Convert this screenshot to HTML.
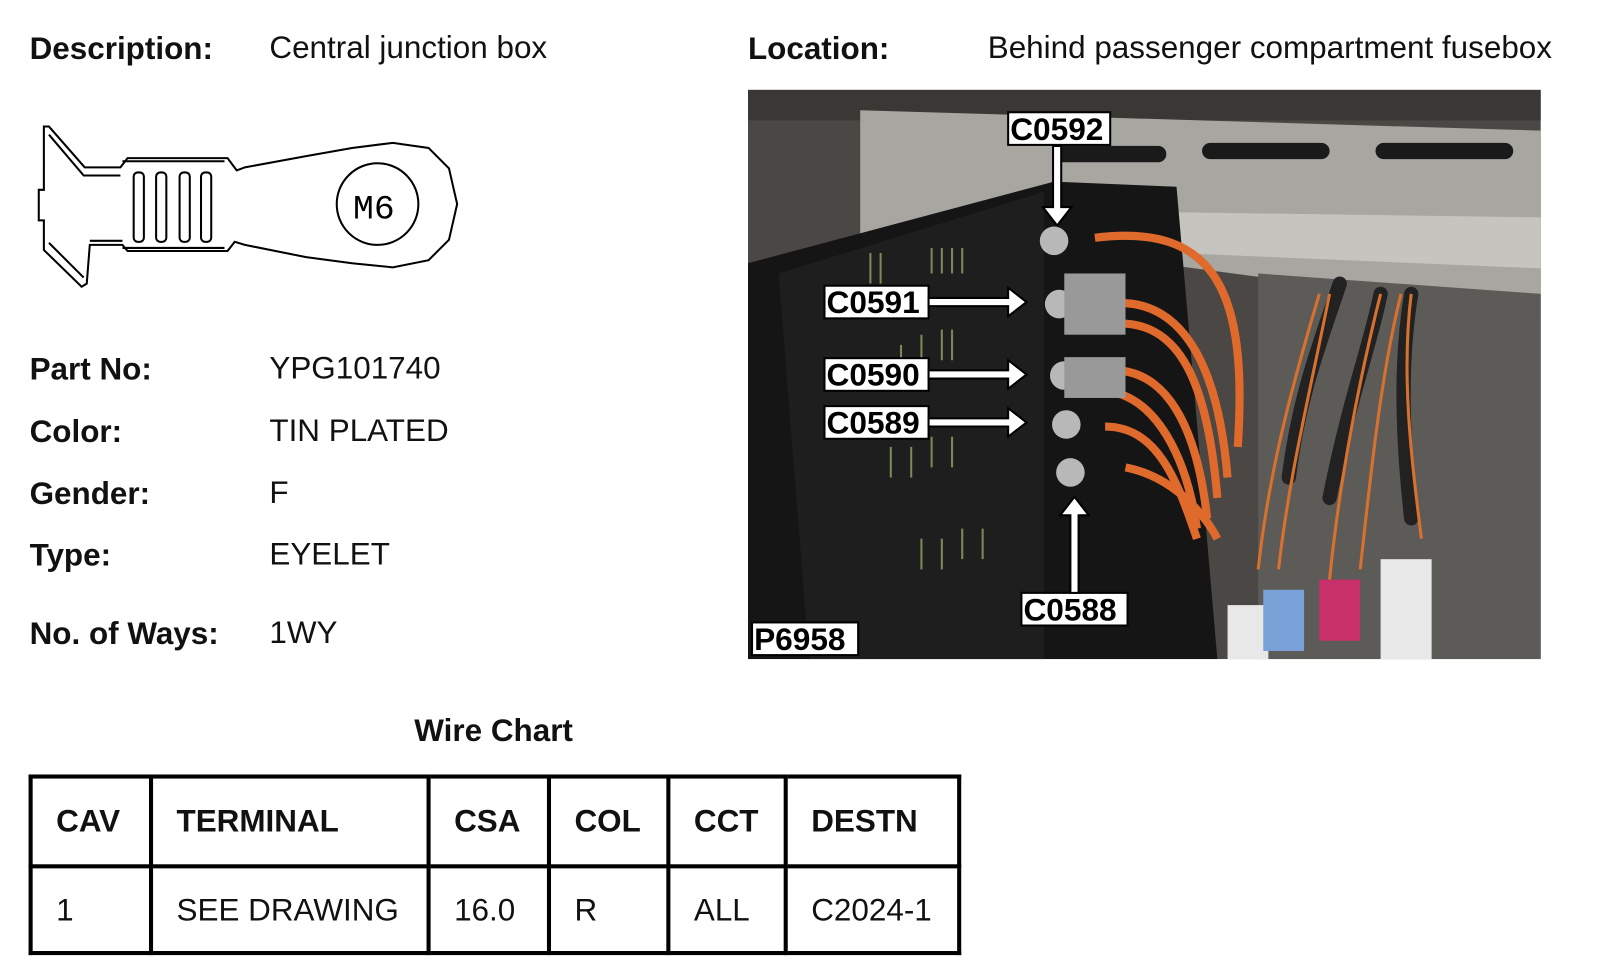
<!DOCTYPE html>
<html><head><meta charset="utf-8"><style>
body{margin:0;width:1600px;height:978px;background:#fff;overflow:hidden;font-family:"Liberation Sans",Arial,sans-serif;color:#111}
#w{position:absolute;left:0;top:0;width:1568px;height:958px;transform:scale(1.0204);transform-origin:0 0}
.t{position:absolute;font-size:30.8px;white-space:nowrap;line-height:1}
.b{font-weight:bold}
table{position:absolute;left:28px;top:759px;border-collapse:collapse;font-size:30.8px}
td{border:4px solid #000;padding:0 0 0 23px;height:85px;box-sizing:border-box}
tr.h td{height:88px}
.lbl{font-family:"Liberation Sans",Arial,sans-serif;font-weight:bold;font-size:31px}
</style></head><body><div id="w">
<div class="t b" style="left:29px;top:33px">Description:</div>
<div class="t" style="left:264px;top:32px">Central junction box</div>
<div class="t b" style="left:733px;top:33px">Location:</div>
<div class="t" style="left:968px;top:32px">Behind passenger compartment fusebox</div>

<svg style="position:absolute;left:0;top:0" width="480" height="300" fill="none" stroke="#000" stroke-width="2">
<path d="M43,124 L43,186 L38,186 L38,216 L43,216 L43,245 L80,281 L85,278 L88,240 L120,240 L125,246 L223,246 L230,237 L240,240 L300,252 L345,258 L385,262 L420,255 L440,235 L448,200 L440,165 L420,145 L385,140 L345,145 L300,153 L240,164 L232,167 L223,155 L125,155 L118,164 L83,164 L48,124 Z"/>
<path d="M48,132 L82,172 L118,172 M48,238 L82,272 M88,236 L120,236"/>
<path d="M120,158 L220,158 M120,243 L220,243"/>
<rect x="131" y="169" width="10" height="68" rx="4"/><rect x="153" y="169" width="10" height="68" rx="4"/><rect x="176" y="169" width="10" height="68" rx="4"/><rect x="197" y="169" width="10" height="68" rx="4"/>
<circle cx="370" cy="200" r="40"/>
<text x="346" y="214" font-family="Liberation Mono,monospace" font-size="34" stroke="none" fill="#000">M6</text>
</svg>

<div class="t b" style="left:29px;top:347px">Part No:</div><div class="t" style="left:264px;top:346px">YPG101740</div>
<div class="t b" style="left:29px;top:408px">Color:</div><div class="t" style="left:264px;top:407px">TIN PLATED</div>
<div class="t b" style="left:29px;top:469px">Gender:</div><div class="t" style="left:264px;top:468px">F</div>
<div class="t b" style="left:29px;top:529px">Type:</div><div class="t" style="left:264px;top:528px">EYELET</div>
<div class="t b" style="left:29px;top:606px">No. of Ways:</div><div class="t" style="left:264px;top:605px">1WY</div>

<svg style="position:absolute;left:733px;top:88px" width="777" height="558">
<rect width="777" height="558" fill="#4a4744"/>
<rect x="0" y="0" width="777" height="30" fill="#3a3835"/>
<polygon points="110,20 777,40 777,220 250,150 110,150" fill="#a8a6a1"/>
<rect x="300" y="55" width="110" height="16" rx="8" fill="#1a1a1a"/>
<rect x="445" y="52" width="125" height="16" rx="8" fill="#1a1a1a"/>
<rect x="615" y="52" width="135" height="16" rx="8" fill="#1a1a1a"/>
<polygon points="420,120 777,125 777,175 420,160" fill="#c6c4bf"/>
<polygon points="500,180 777,200 777,558 500,558" fill="#5d5b58"/>
<polygon points="0,170 300,90 420,95 460,558 0,558" fill="#151515"/>
<polygon points="30,180 290,100 290,558 60,558" fill="#1e1e1e"/>
<g stroke="#7c8a5a" stroke-width="2">
<path d="M120,190v-30M130,190v-30M180,180v-25M190,180v-25M200,180v-25M210,180v-25M150,280v-30M170,270v-30M190,265v-30M200,265v-30M140,380v-30M160,380v-30M180,370v-30M200,370v-30M170,470v-30M190,470v-30M210,460v-30M230,460v-30"/>
</g>
<rect x="470" y="505" width="40" height="55" fill="#e8e8e8"/><rect x="505" y="490" width="40" height="60" fill="#7aa0d8"/>
<rect x="560" y="480" width="40" height="60" fill="#c8306a"/><rect x="620" y="460" width="50" height="98" fill="#e8e8e8"/>
<g stroke="#222" stroke-width="14" fill="none" stroke-linecap="round">
<path d="M530,380 C540,300 560,250 580,190"/><path d="M570,400 C590,300 610,250 620,200"/><path d="M650,420 C640,330 640,260 650,200"/>
</g>
<g stroke="#e06a2c" stroke-width="8" fill="none">
<path d="M340,145 C460,130 490,200 480,350"/>
<path d="M350,210 C420,200 460,260 470,380"/>
<path d="M350,230 C420,220 450,280 460,400"/>
<path d="M350,275 C410,270 440,330 450,420"/>
<path d="M350,295 C400,300 430,360 440,430"/>
<path d="M350,330 C400,330 420,380 440,440"/>
<path d="M370,370 C420,380 450,420 460,440"/>
</g>
<g stroke="#d8702e" stroke-width="3" fill="none">
<path d="M500,470 C510,380 530,300 560,200"/><path d="M520,470 C530,380 550,300 570,200"/>
<path d="M570,480 C580,380 600,280 620,200"/><path d="M600,470 C610,380 620,280 640,200"/>
<path d="M660,440 C650,360 640,280 650,200"/>
</g>
<g fill="#b8b8b8"><circle cx="300" cy="148" r="14"/><circle cx="305" cy="210" r="14"/><circle cx="310" cy="280" r="14"/><circle cx="312" cy="328" r="14"/><circle cx="316" cy="375" r="14"/>
<rect x="310" y="180" width="60" height="60" fill="#999"/><rect x="310" y="262" width="60" height="40" fill="#999"/></g>
<g fill="#fff" stroke="#000" stroke-width="2">
<rect x="255" y="22" width="100" height="32"/><rect x="75" y="192" width="102" height="32"/><rect x="75" y="263" width="102" height="32"/><rect x="75" y="310" width="102" height="32"/><rect x="268" y="493" width="104" height="32"/><rect x="4" y="522" width="104" height="32"/>
<path d="M299,55 h8 v60 h10 l-14,18 l-14,-18 h10 z"/>
<path d="M177,204 h78 v-10 l18,14 l-18,14 v-10 h-78 z"/>
<path d="M177,275 h78 v-10 l18,14 l-18,14 v-10 h-78 z"/>
<path d="M177,322 h78 v-10 l18,14 l-18,14 v-10 h-78 z"/>
<path d="M316,493 h8 v-76 h10 l-14,-18 l-14,18 h10 z"/>
</g>
<g class="lbl" fill="#000">
<text x="257" y="49">C0592</text><text x="77" y="219">C0591</text><text x="77" y="290">C0590</text><text x="77" y="337">C0589</text><text x="270" y="520">C0588</text><text x="6" y="549">P6958</text>
</g>
</svg>

<div class="t b" style="left:406px;top:701px">Wire Chart</div>
<table>
<tr class="h" style="font-weight:bold"><td style="width:118px">CAV</td><td style="width:272px">TERMINAL</td><td style="width:118px">CSA</td><td style="width:117px">COL</td><td style="width:115px">CCT</td><td style="width:170px">DESTN</td></tr>
<tr><td>1</td><td>SEE DRAWING</td><td>16.0</td><td>R</td><td>ALL</td><td>C2024-1</td></tr>
</table>
</div></body></html>
